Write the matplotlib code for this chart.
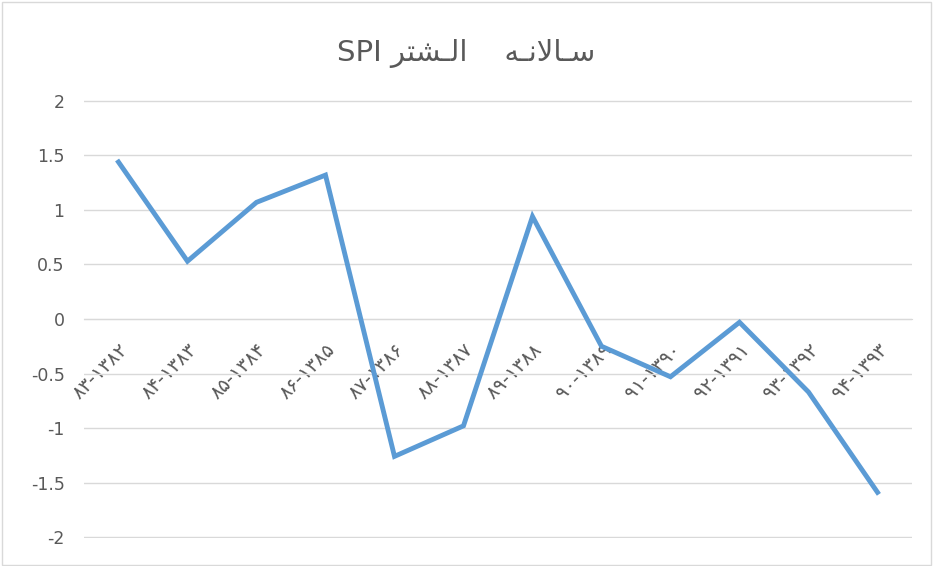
import matplotlib
matplotlib.use("Agg")
import matplotlib.pyplot as plt
from matplotlib.patches import Rectangle

# -----------------------------
# SPI سالانه الشتر
# -----------------------------

# برچسب‌ها به ترتیب نمایشی (matplotlib راست‌به‌چپ را پشتیبانی نمی‌کند)
years = ["۸۳-۱۳۸۲", "۸۴-۱۳۸۳", "۸۵-۱۳۸۴", "۸۶-۱۳۸۵", "۸۷-۱۳۸۶", "۸۸-۱۳۸۷",
         "۸۹-۱۳۸۸", "۹۰-۱۳۸۹", "۹۱-۱۳۹۰", "۹۲-۱۳۹۱", "۹۳-۱۳۹۲", "۹۴-۱۳۹۳"]
spi = [1.44, 0.53, 1.07, 1.32, -1.26, -0.98, 0.94, -0.25, -0.53, -0.03, -0.67, -1.59]
yticks = [2, 1.5, 1, 0.5, 0, -0.5, -1, -1.5, -2]
ytick_labels = ["2", "1.5", "1", "0.5", "0", "-0.5", "-1", "-1.5", "-2"]

# عنوان با شکل‌های نمایشی عربی، ترتیب دیداری
title = "SPI \uFEAE\uFE98\uFEB8\u0640\uFEDF\uFE8D    \uFEEA\u0640\uFEE7\uFEFB\uFE8E\u0640\uFEB3"

plt.rcParams['font.family'] = ['DejaVu Sans']

fig = plt.figure(figsize=(9.33, 5.66), dpi=100)
ax = fig.add_axes([0.090, 0.0502, 0.8875, 0.7724])

# محور دسته‌ها روی خط صفر (قبل از تنظیم برچسب‌ها)
for s in ["top", "right", "left"]:
    ax.spines[s].set_visible(False)
ax.spines["bottom"].set_position(("data", 0))
ax.spines["bottom"].set_color("#d9d9d9")

ax.plot(range(len(spi)), spi, color="#5b9bd5", linewidth=3.5, solid_joinstyle="miter", zorder=3)

ax.set_xlim(-0.5, len(spi) - 0.5)
ax.set_ylim(-2.005, 2.005)
ax.set_yticks(yticks)
ax.set_yticklabels(ytick_labels, fontsize=12.5, color="#595959")
ax.grid(axis="y", color="#d9d9d9", linewidth=1)
ax.set_axisbelow(True)

ax.set_xticks(range(len(years)))
ax.set_xticklabels(years, rotation=45, ha="right", va="top", rotation_mode="anchor",
                   fontsize=14, color="#595959")
ax.tick_params(length=0)
ax.tick_params(axis="x", pad=15)
ax.tick_params(axis="y", pad=14)

fig.text(0.5, 0.905, title, ha="center", va="center", fontsize=21, color="#595959")

fig.patches.append(Rectangle((0.002, 0.002), 0.996, 0.994, transform=fig.transFigure,
                             fill=False, edgecolor="#d9d9d9", linewidth=1))

fig.savefig("out.png", dpi=100)
